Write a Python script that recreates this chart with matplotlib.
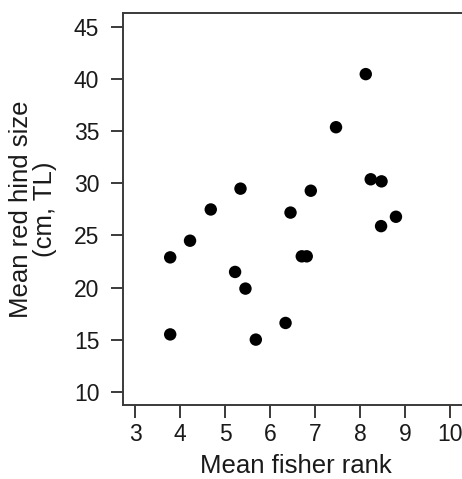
import matplotlib
matplotlib.use('Agg')
import matplotlib.pyplot as plt

plt.rcParams['font.family'] = ['Liberation Sans', 'DejaVu Sans']

# Mean fisher rank vs mean red hind size
fisher_rank = [3.78, 3.78, 4.22, 4.68, 5.22, 5.34, 5.45, 5.68, 6.34, 6.45,
               6.70, 6.81, 6.90, 7.46, 8.12, 8.23, 8.47, 8.46, 8.79]
hind_size = [22.9, 15.5, 24.5, 27.5, 21.5, 29.5, 19.9, 15.0, 16.6, 27.2,
             23.0, 23.0, 29.3, 35.4, 40.5, 30.4, 30.2, 25.9, 26.8]

x_ticks = [3, 4, 5, 6, 7, 8, 9, 10]
y_ticks = [10, 15, 20, 25, 30, 35, 40, 45]

fig = plt.figure(figsize=(4.62, 4.79), dpi=100)
ax = fig.add_axes([0.266, 0.1545, 0.750, 0.819])

ax.scatter(fisher_rank, hind_size, s=80, color='black', edgecolors='none', zorder=3)

ax.set_xlim(2.73, 10.42)
ax.set_ylim(8.72, 46.4)
ax.set_xticks(x_ticks)
ax.set_yticks(y_ticks)

# box is cropped on the right in the original, so no right spine
edge = '#3a3a3a'
for sp in ax.spines.values():
    sp.set_linewidth(1.4)
    sp.set_color(edge)
ax.spines['right'].set_visible(False)

ax.tick_params(axis='both', direction='out', length=9, width=1.4, color=edge,
               labelsize=16.5, labelcolor='#1a1a1a')
ax.tick_params(axis='y', pad=8)
ax.tick_params(axis='x', pad=4)

ax.set_xlabel('Mean fisher rank', fontsize=18.5, color='#1a1a1a', labelpad=6)
ax.set_ylabel('Mean red hind size\n(cm, TL)', fontsize=18.5, color='#1a1a1a',
              labelpad=12, linespacing=1.0, multialignment='center')

plt.savefig('out.png', dpi=100)
